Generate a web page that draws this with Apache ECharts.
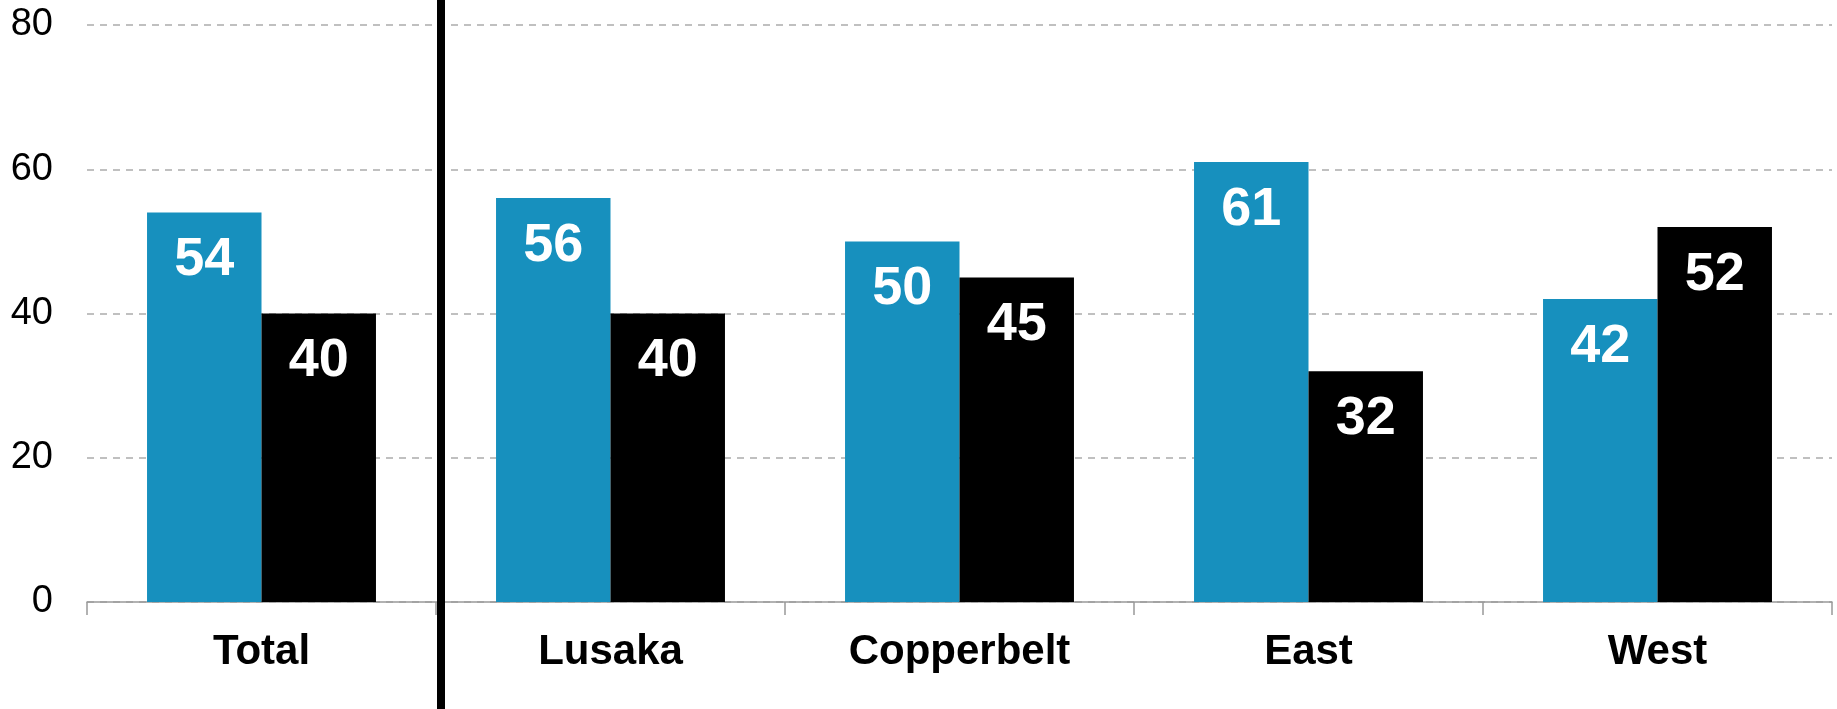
<!DOCTYPE html>
<html>
<head>
<meta charset="utf-8">
<script src="https://cdn.jsdelivr.net/npm/echarts@6/dist/echarts.min.js"></script>
<style>
  html, body { margin: 0; padding: 0; background: #fff; }
  #chart { width: 1837px; height: 709px; }
</style>
</head>
<body>
<div id="chart"></div>
<script>
const categories = ['Total', 'Lusaka', 'Copperbelt', 'East', 'West'];
const blueValues = [54, 56, 50, 61, 42];
const blackValues = [40, 40, 45, 32, 52];

const font = '"Liberation Sans", Arial, sans-serif';
const chart = echarts.init(document.getElementById('chart'));

const valueLabel = {
  show: true,
  position: 'insideTop',
  distance: 21,
  color: '#fff',
  fontFamily: font,
  fontWeight: 'bold',
  fontSize: 54
};

chart.setOption({
  animation: false,
  grid: { left: 87, right: 5, top: 25, bottom: 107 },
  xAxis: {
    type: 'category',
    data: categories,
    axisLine: { lineStyle: { color: '#999', width: 1.5 } },
    axisTick: { show: true, alignWithLabel: false, length: 13, lineStyle: { color: '#999', width: 1.5 } },
    axisLabel: {
      margin: 29,
      color: '#000',
      fontFamily: font,
      fontWeight: 'bold',
      fontSize: 42
    }
  },
  yAxis: {
    type: 'value',
    min: 0,
    max: 80,
    interval: 20,
    axisLine: { show: false },
    axisTick: { show: false },
    axisLabel: { margin: 34, color: '#000', fontFamily: font, fontSize: 38 },
    splitLine: { lineStyle: { color: '#c0c0c0', width: 2, type: [7, 6] } }
  },
  series: [
    {
      type: 'bar',
      data: blueValues,
      barGap: '0%',
      barCategoryGap: '34.4%',
      itemStyle: { color: '#1790be' },
      label: valueLabel
    },
    {
      type: 'bar',
      data: blackValues,
      itemStyle: { color: '#000' },
      label: valueLabel
    }
  ],
  // separator between Total and the regions
  graphic: [{
    type: 'line',
    z: 100,
    shape: { x1: 441, y1: 0, x2: 441, y2: 709 },
    style: { stroke: '#000', lineWidth: 8 }
  }]
});
</script>
</body>
</html>
